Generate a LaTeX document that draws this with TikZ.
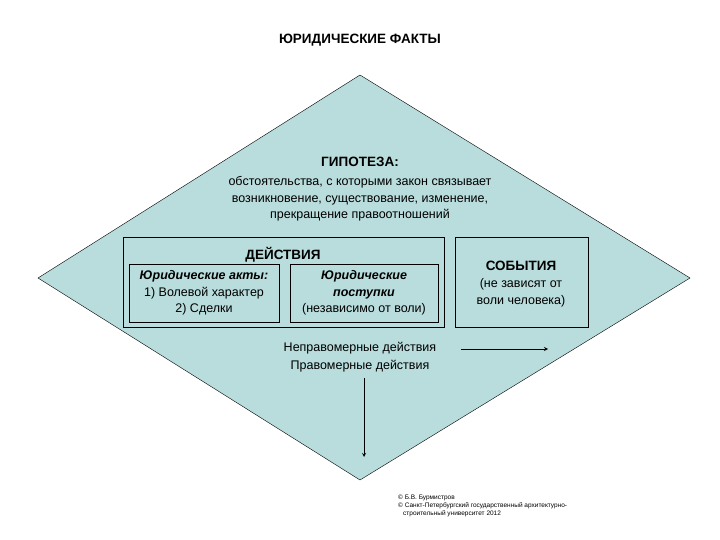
\documentclass[tikz,border=0pt]{standalone}
\usepackage{fontspec}
\setmainfont{Liberation Sans}
\begin{document}
\begin{tikzpicture}[x=1pt,y=-1pt,
  txt/.style={align=center,font=\fontsize{12.5}{16.5}\selectfont,inner sep=0pt},
  hd/.style={txt,font=\fontsize{13.5}{16}\selectfont\bfseries},
  bx/.style={draw,thick,fill=none}]
\useasboundingbox (0,0) rectangle (720,540);
\fill[white] (0,0) rectangle (720,540);
\draw[fill={rgb,255:red,185;green,220;blue,220}] (360,75) coordinate (T) -- (690,278) coordinate (R) -- (360,480) coordinate (B) -- (38,278) coordinate (L) -- cycle;
\node[hd] (title) at (360,40) {ЮРИДИЧЕСКИЕ ФАКТЫ};
\node[hd] (hyp) at (360,162) {ГИПОТЕЗА:};
\node[txt] (hyptext) at (360,199) {обстоятельства, с которыми закон связывает\\возникновение, существование, изменение,\\прекращение правоотношений};
\draw[bx] (123,237) rectangle (444,327);
\node[hd] (act) at (283,255) {ДЕЙСТВИЯ};
\draw[bx] (129,264) rectangle (279,322);
\node[txt] (acts) at (204,293) {\textbf{\textit{Юридические акты:}}\\1) Волевой характер\\2) Сделки};
\draw[bx] (290,264) rectangle (438,322);
\node[txt] (post) at (364,293) {\textbf{\textit{Юридические}}\\\textbf{\textit{поступки}}\\(независимо от воли)};
\draw[bx] (455,237) rectangle (588,327);
\node[hd] (ev) at (521,266) {СОБЫТИЯ};
\node[txt] (evt) at (521,293) {(не зависят от\\воли человека)};
\node[txt] (illegal) at (360,348) {Неправомерные действия};
\node[txt] (legal) at (360,366) {Правомерные действия};
\coordinate (rs) at (461,349);
\coordinate (ra) at (548,349);
\coordinate (ds) at (364,378);
\coordinate (da) at (364,457);
\draw[-stealth,thick] (rs) -- (ra);
\draw[-stealth,thick] (ds) -- (da);
\node[txt,anchor=north west,align=left,font=\fontsize{6.5}{8}\selectfont] (copy) at (398,495) {© Б.В. Бурмистров\\© Санкт-Петербургский государственный архитектурно-\\\hspace*{5pt}строительный университет 2012};
\end{tikzpicture}
\end{document}
